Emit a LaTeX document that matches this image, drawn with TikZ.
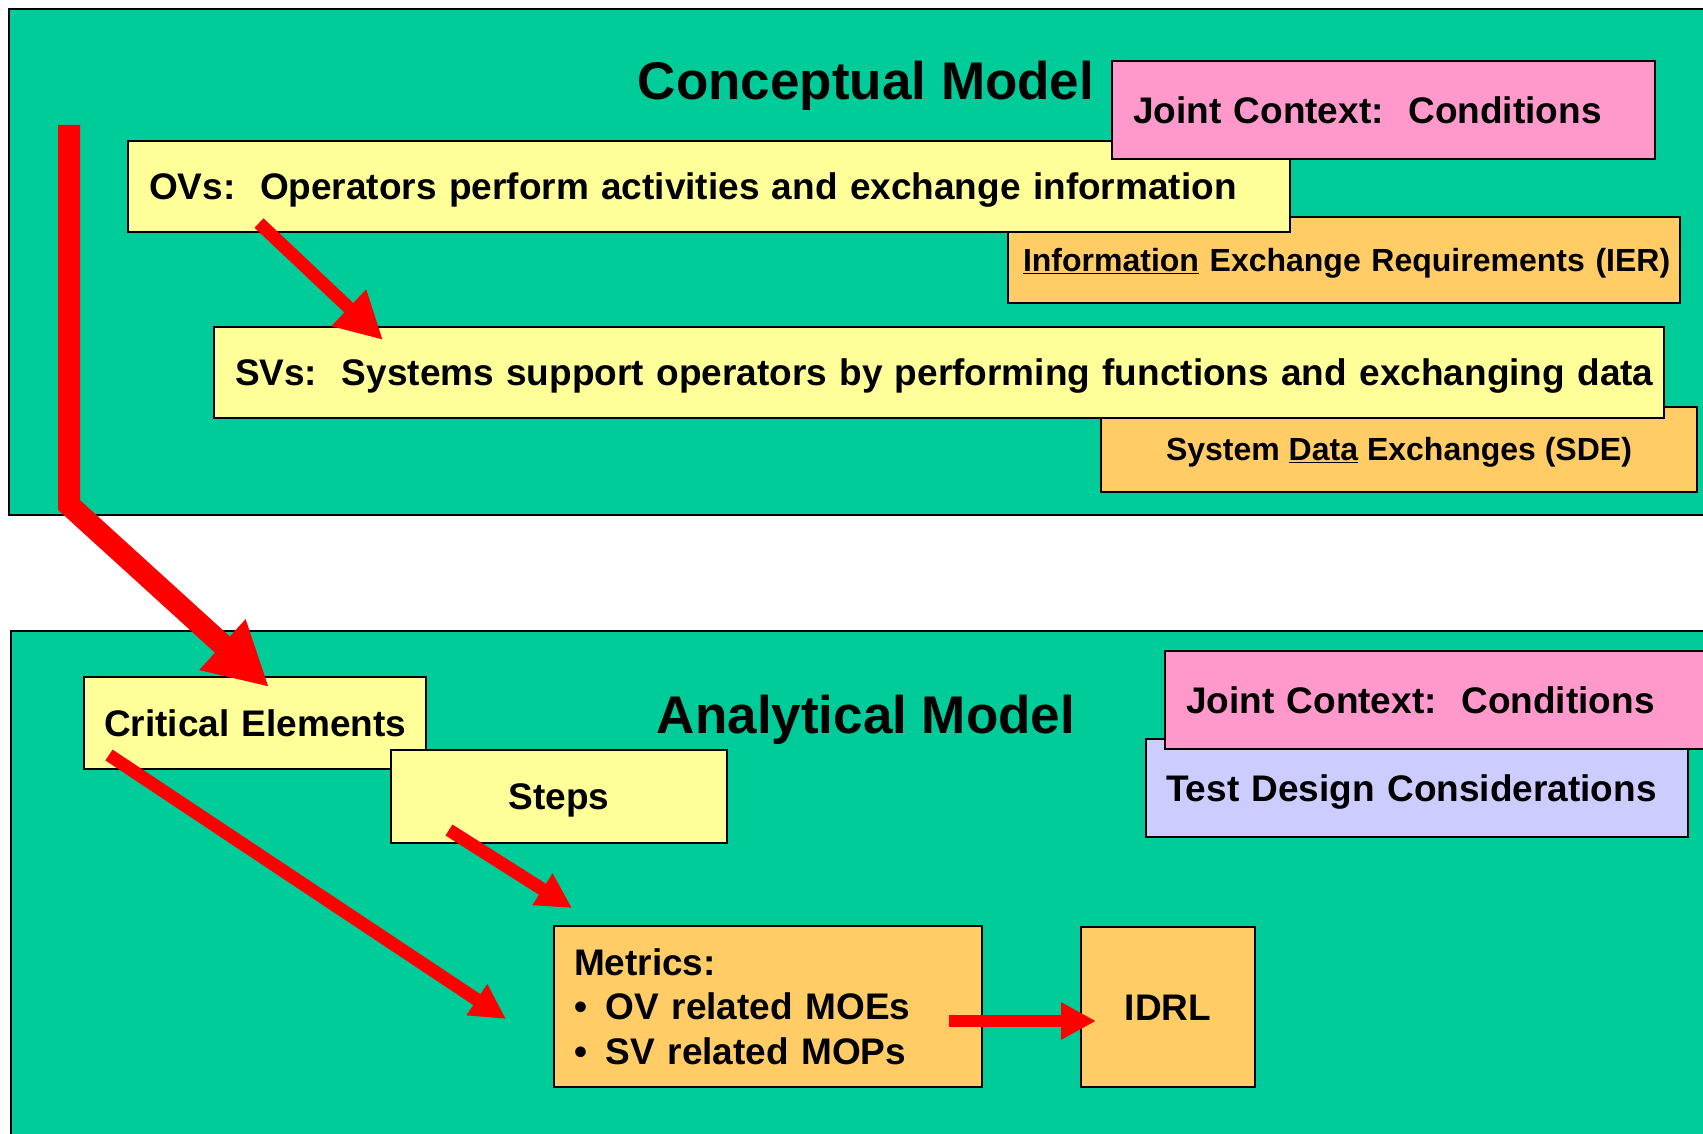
\documentclass[tikz,border=0pt]{standalone}
\usepackage{fontspec}
\setmainfont{Liberation Sans}
\usetikzlibrary{arrows.meta}
\definecolor{modelgreen}{RGB}{0,204,153}
\definecolor{paleyellow}{RGB}{255,255,153}
\definecolor{paleorange}{RGB}{255,204,102}
\definecolor{jointpink}{RGB}{255,153,204}
\definecolor{periwinkle}{RGB}{204,204,255}
\definecolor{arrowred}{RGB}{255,0,0}

\begin{document}
\begin{tikzpicture}
        [x=1pt, y=-1pt,
        panel/.style={draw=black, line width=2pt, fill=modelgreen},
        plainbox/.style={draw=black, line width=2pt, inner ysep=0pt, align=left, anchor=west,
          font=\bfseries\fontsize{37}{44.5}\selectfont\frenchspacing},
        box/.style={plainbox, text height=26.5pt, text depth=0pt},
        cbox/.style={box, align=center, anchor=center},
        note/.style={box, font=\bfseries\fontsize{32}{38}\selectfont\frenchspacing, text height=22.9pt},
        heading/.style={anchor=base, font=\bfseries\fontsize{53}{60}\selectfont},
        arr/.style={-{Triangle[width=35pt,length=35pt]}, draw=arrowred, line width=13pt},
        bigarr/.style={-{Triangle[width=64pt,length=63pt]}, draw=arrowred, line width=22pt}]
        \useasboundingbox (0,0) rectangle (1703,1134);
        \fill[white] (0,0) rectangle (1703,1134);

        \draw[panel] (9,9) rectangle (1720,515);
        \draw[panel] (11,631) rectangle (1720,1150);

        \node (ier) at (1007,260) [note, fill=paleorange, text width=642pt, inner xsep=15pt, minimum height=86pt]
           {\mbox{\underline{Information} Exchange Requirements (IER)}};
        \node (ov) at (127,186.5) [box, fill=paleyellow, text width=1120pt, inner xsep=21pt, minimum height=91pt]
           {OVs:~ Operators perform activities and exchange information};
        \node (jc1) at (1111,110) [box, fill=jointpink, text width=501pt, inner xsep=21pt, minimum height=98pt]
           {Joint Context:~ Conditions};
        \node (sde) at (1399,449.5) [note, anchor=center, align=center, fill=paleorange, minimum width=596pt, minimum height=85pt]
           {System \underline{Data} Exchanges (SDE)};
        \node (sv) at (213,372.5) [box, fill=paleyellow, text width=1408pt, inner xsep=21pt, minimum height=91pt]
           {\mbox{SVs:~ Systems support operators by performing functions and exchanging data}};
        \node (concept) at (866,100) [heading] {Conceptual Model};

        \node (ce) at (83,723) [box, fill=paleyellow, text width=302pt, inner xsep=20pt, minimum height=92pt]
           {\mbox{Critical Elements}};
        \node (steps) at (559,796.5) [cbox, fill=paleyellow, minimum width=336pt, minimum height=93pt] {Steps};
        \node (tdc) at (1145,788) [box, fill=periwinkle, text width=502pt, inner xsep=20pt, minimum height=98pt]
           {Test Design Considerations};
        \node (jc2) at (1164,700) [box, fill=jointpink, text width=514pt, inner xsep=21pt, minimum height=98pt]
           {Joint Context:~ Conditions};
        \node (metrics) at (553,1006.5) [plainbox, fill=paleorange, text width=388pt, inner xsep=20pt, minimum height=161pt]
           {Metrics:\\ \textbullet\hspace{19pt}OV related MOEs\\ \textbullet\hspace{19pt}SV related MOPs};
        \node (idrl) at (1168,1007) [cbox, fill=paleorange, minimum width=174pt, minimum height=160pt] {IDRL};
        \node (analytic) at (866,733) [heading] {Analytical Model};

        \coordinate (bigTop) at (69,125);
        \coordinate (bigBend) at (69,505);
        \coordinate (bigTip) at (269,687);
        \coordinate (ovTail) at (259,223);
        \coordinate (svTip) at (383,340);
        \coordinate (ceTail) at (109,755);
        \coordinate (ceTip) at (506,1019);
        \coordinate (stepsTail) at (449,830);
        \coordinate (stepsTip) at (572,908);
        \coordinate (metricsTail) at (949,1021);
        \coordinate (idrlTip) at (1096,1021);

        \draw[bigarr] (bigTop) -- (bigBend) -- (bigTip);
        \draw[arr, {-Triangle[width=47pt,length=47pt]}] (ovTail) -- (svTip);
        \draw[arr] (ceTail) -- (ceTip);
        \draw[arr] (stepsTail) -- (stepsTip);
        \draw[arr, line width=12pt] (metricsTail) -- (idrlTip);
\end{tikzpicture}
\end{document}
